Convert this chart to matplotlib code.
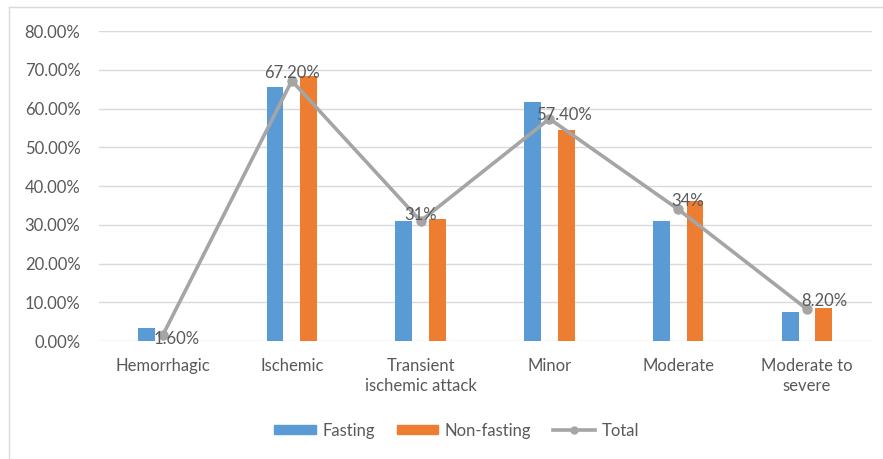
import matplotlib
matplotlib.use("Agg")
import matplotlib.pyplot as plt
import numpy as np
from matplotlib.lines import Line2D
from matplotlib.patches import Rectangle

categories = ["Hemorrhagic", "Ischemic", "Transient\nischemic attack", "Minor", "Moderate", "Moderate to\nsevere"]
fasting = [3.4, 65.5, 30.9, 61.8, 30.9, 7.6]
non_fasting = [0.0, 68.5, 31.6, 54.5, 36.1, 8.5]
total = [1.6, 67.2, 31.0, 57.4, 34.0, 8.2]
total_labels = ["1.60%", "67.20%", "31%", "57.40%", "34%", "8.20%"]

# pixel nudges for the data labels, like the original
label_offsets = [(14, -4), (0, 8), (0, 6), (15, 4), (9, 8), (17, 8)]

blue = "#5B9BD5"
orange = "#ED7D31"
gray = "#A5A5A5"
text_color = "#595959"

plt.rcParams["font.family"] = ["Lato", "DejaVu Sans"]

fig = plt.figure(figsize=(8.83, 4.59), dpi=100)
ax = fig.add_axes([0.1116, 0.257, 0.8754, 0.675])

x = np.arange(len(categories))
w = 0.13
ax.bar(x - w, fasting, w, color=blue, zorder=2)
ax.bar(x + w, non_fasting, w, color=orange, zorder=2)
ax.plot(x, total, color=gray, lw=2.6, marker="o", ms=6.5, zorder=3)

for xi, yi, lab, off in zip(x, total, total_labels, label_offsets):
    ax.annotate(lab, (xi, yi), xytext=off, textcoords="offset pixels",
                ha="center", va="center", fontsize=12, color=text_color, zorder=4)

ax.set_xlim(-0.5, len(categories) - 0.5)
ax.set_ylim(0, 80)
ax.set_yticks(np.arange(0, 81, 10))
ax.set_yticklabels(["%.2f%%" % v for v in np.arange(0, 81, 10)])
ax.set_xticks(x)
ax.set_xticklabels(categories, linespacing=1.3)
ax.tick_params(length=0, labelsize=12, colors=text_color)
ax.tick_params(axis="x", pad=12)
ax.tick_params(axis="y", pad=13)
ax.grid(axis="y", color="#D9D9D9", lw=1, zorder=0)
for s in ax.spines.values():
    s.set_visible(False)

handles = [Rectangle((0, 0), 1, 1, color=blue), Rectangle((0, 0), 1, 1, color=orange),
           Line2D([], [], color=gray, lw=2.6, marker="o", ms=5)]
fig.legend(handles, ["Fasting", "Non-fasting", "Total"], loc="center", bbox_to_anchor=(0.517, 0.062),
           ncol=3, frameon=False, fontsize=12, labelcolor=text_color, handlelength=2.5,
           handleheight=0.5, columnspacing=1.3, handletextpad=0.4)

# light frame on the left and top edges
fig.add_artist(Line2D([0.0102, 0.0102], [0, 0.985], color="#D9D9D9", lw=1, transform=fig.transFigure))
fig.add_artist(Line2D([0.0102, 1], [0.985, 0.985], color="#D9D9D9", lw=1, transform=fig.transFigure))

fig.savefig("out.png", dpi=100, facecolor="white")
